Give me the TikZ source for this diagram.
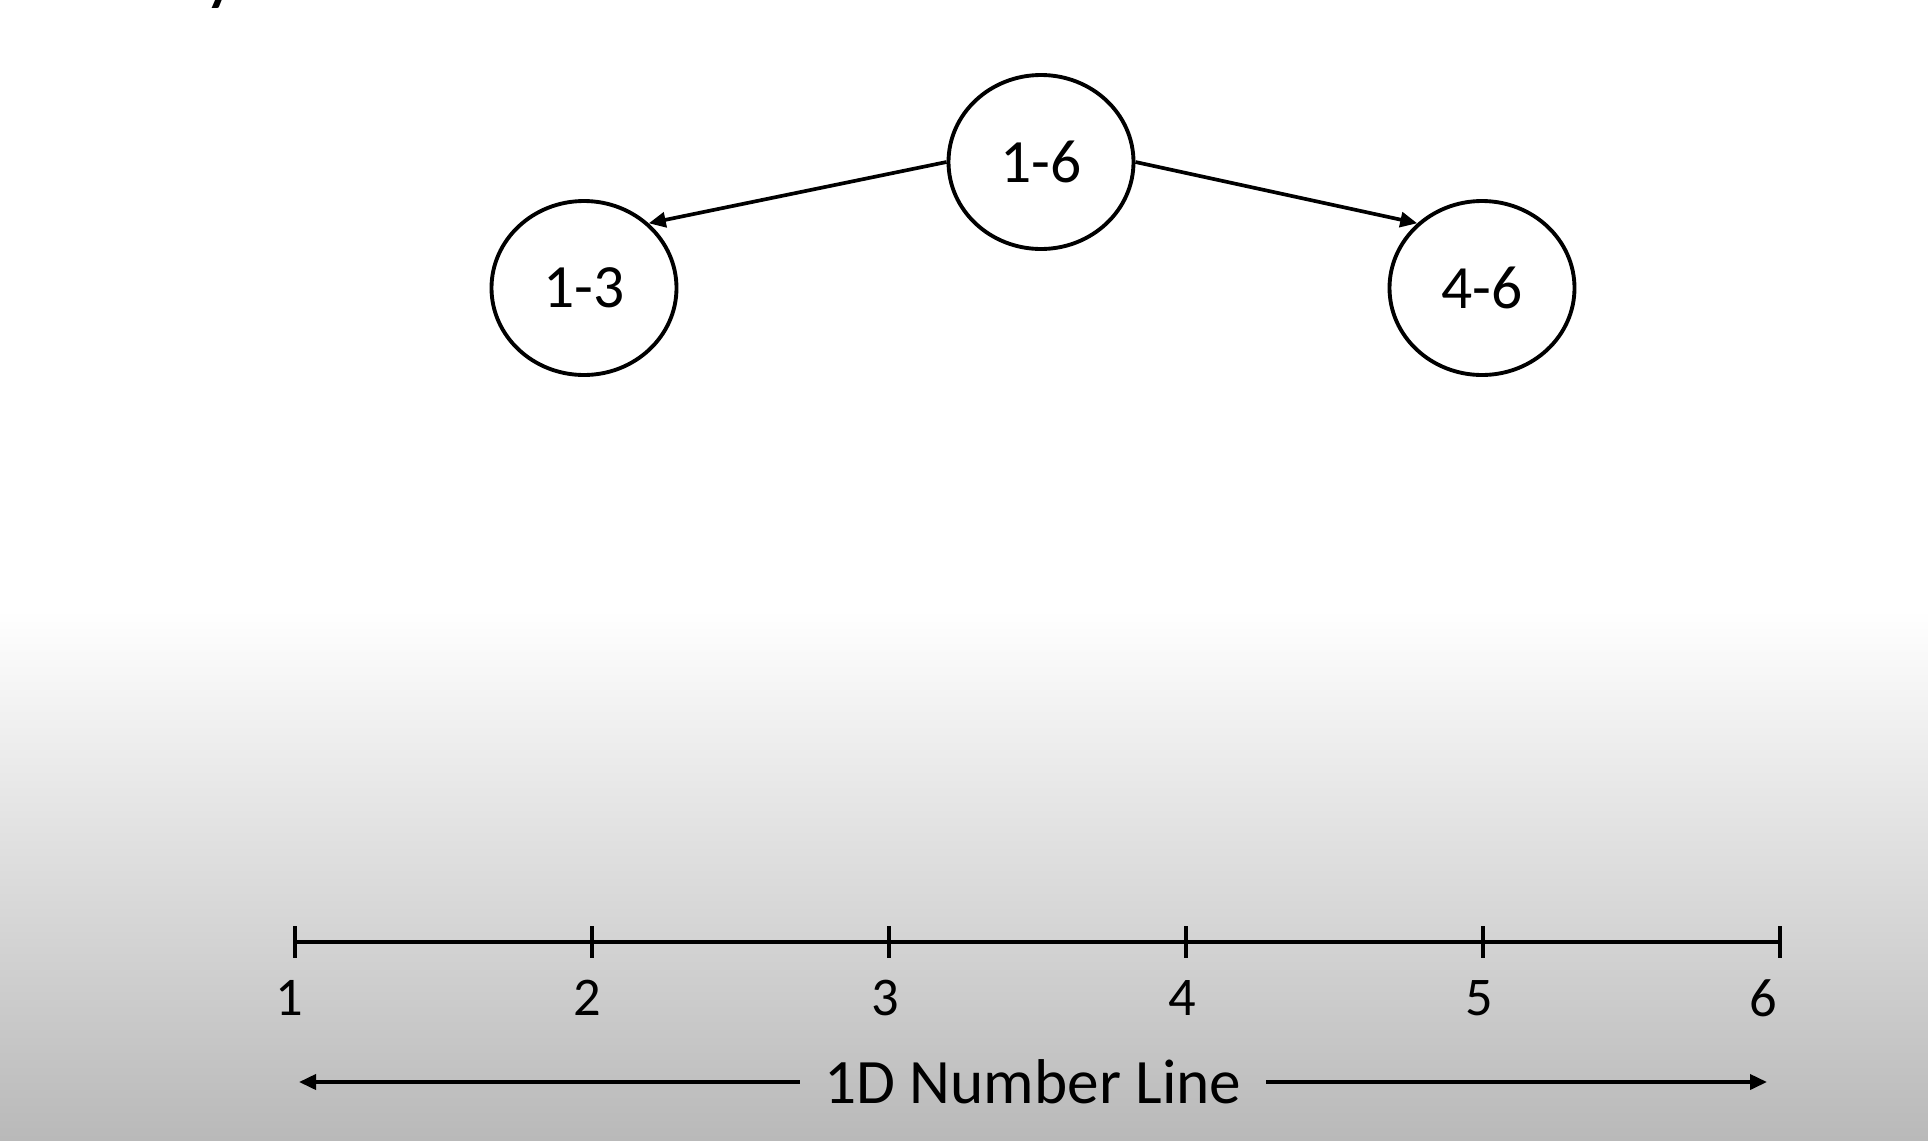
\documentclass[tikz,border=0pt]{standalone}
\usepackage{fontspec}
\setmainfont{Carlito}
\usetikzlibrary{arrows.meta,shapes.geometric}

\begin{document}
\begin{tikzpicture}[
    rangenode/.style={draw, ellipse, line width=1.1pt, inner sep=0pt,
      minimum width=1.85cm, minimum height=1.74cm, font=\fontsize{17.5}{20}\selectfont},
    link/.style={line width=1.05pt, -{Triangle[length=0.17cm,width=0.15cm]}},
    axis/.style={line width=1.05pt}
  ]
  \useasboundingbox (0,0) rectangle (19.28,-11.40);
  % Background, white fading into grey towards the bottom
  \fill [white] (0,0) rectangle (19.28,-11.40);
  \shade [top color=white, bottom color=gray!55] (0,-6.1) rectangle (19.28,-11.40);

  % Tail of the cut-off title letter
  \node [anchor=base, inner sep=0pt, font=\fontsize{23}{28}\selectfont] (title) at (2.22,0.05) {y};

  % The tree of ranges
  \node [rangenode] (n16) at (10.41,-1.62) {1-6};
  \node [rangenode] (n13) at (5.84,-2.88) {1-3};
  \node [rangenode] (n46) at (14.82,-2.88) {4-6};
  \draw [link] (n16.west) -- (n13.45);
  \draw [link] (n16.east) -- (n46.135);

  % Number line with its ticks and labels
  \foreach \i/\x/\lx in {1/2.95/2.89, 2/5.92/5.87, 3/8.89/8.85,
    4/11.86/11.82, 5/14.83/14.79, 6/17.80/17.63} {
    \coordinate (t\i) at (\x,-9.42);
    \draw [axis] (\x,-9.26) -- (\x,-9.58);
    \node [font=\fontsize{15.5}{18}\selectfont] (l\i) at (\lx,-9.98) {\i};
  }
  \draw [axis] (t1) -- (t6);

  % Caption with arrows pointing both ways
  \node [font=\fontsize{18}{21}\selectfont, inner xsep=0.24cm] (caption) at (10.33,-10.82) {1D Number Line};
  \coordinate (lend) at (2.99,-10.82);
  \coordinate (rend) at (17.67,-10.82);
  \draw [link] (caption.west) -- (lend);
  \draw [link] (caption.east) -- (rend);
\end{tikzpicture}
\end{document}
